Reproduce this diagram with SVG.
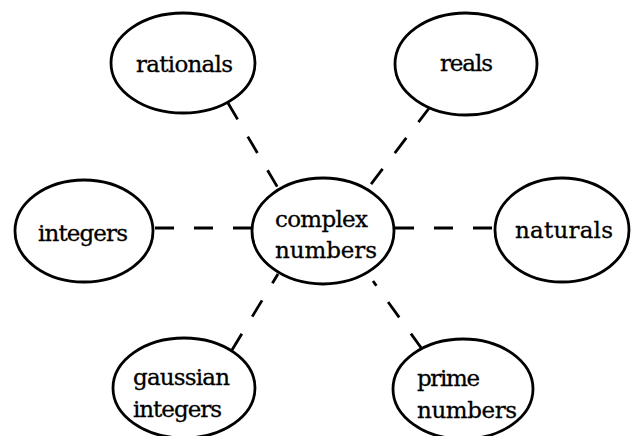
<svg xmlns="http://www.w3.org/2000/svg" width="632" height="436" viewBox="0 0 632 436">
<style>
.n{fill:#fff;stroke:#000;stroke-width:2.8}
.t{font-family:"DejaVu Serif","Liberation Serif",serif;font-size:23px;fill:#000;stroke:#000;stroke-width:0.3}
.c{stroke:#000;stroke-width:2.8;stroke-dasharray:19 20;fill:none}
</style>
<rect width="632" height="436" fill="#fff"/>
<g id="connectors">
<line class="c" x1="228" y1="103" x2="278" y2="188"/>
<line class="c" x1="430" y1="107" x2="368" y2="188"/>
<line class="c" x1="155" y1="228" x2="252" y2="228"/>
<line class="c" x1="395" y1="228" x2="495" y2="228"/>
<line class="c" x1="232" y1="350" x2="278" y2="274"/>
<line class="c" x1="422" y1="349" x2="373" y2="281"/>
</g>
<g id="rationals">
<ellipse class="n" cx="183" cy="63" rx="72" ry="50"/>
<text class="t" x="136" y="72" textLength="97">rationals</text>
</g>
<g id="reals">
<ellipse class="n" cx="466" cy="64" rx="71" ry="51"/>
<text class="t" x="440" y="71" textLength="53">reals</text>
</g>
<g id="integers">
<ellipse class="n" cx="84" cy="231" rx="69" ry="51"/>
<text class="t" x="38" y="241" textLength="90">integers</text>
</g>
<g id="complex">
<ellipse class="n" cx="323" cy="231" rx="71" ry="53"/>
<text class="t" x="275" y="227" textLength="93">complex</text>
<text class="t" x="275" y="258" textLength="102">numbers</text>
</g>
<g id="naturals">
<ellipse class="n" cx="562" cy="230" rx="67" ry="52"/>
<text class="t" x="515" y="238" textLength="98">naturals</text>
</g>
<g id="gaussian">
<ellipse class="n" cx="184" cy="388" rx="71" ry="50"/>
<text class="t" x="133" y="385" textLength="97">gaussian</text>
<text class="t" x="133" y="417" textLength="89">integers</text>
</g>
<g id="prime">
<ellipse class="n" cx="463" cy="389" rx="70" ry="50"/>
<text class="t" x="417" y="386" textLength="63">prime</text>
<text class="t" x="417" y="418" textLength="100">numbers</text>
</g>
</svg>
